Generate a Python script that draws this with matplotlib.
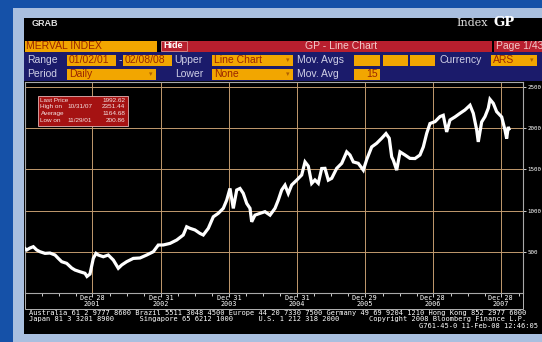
import matplotlib.pyplot as plt
from matplotlib.patches import Rectangle

# MERVAL index (decimal year, index value)
years = [2001.000, 2001.025, 2001.073, 2001.122, 2001.172, 2001.220, 2001.294, 2001.367, 2001.441,
         2001.489, 2001.539, 2001.612, 2001.686, 2001.734, 2001.808, 2001.881, 2001.910, 2001.954,
         2002.003, 2002.043, 2002.076, 2002.150, 2002.223, 2002.297, 2002.370, 2002.420, 2002.493,
         2002.590, 2002.689, 2002.787, 2002.884, 2002.957, 2003.031, 2003.129, 2003.228, 2003.324,
         2003.374, 2003.423, 2003.496, 2003.570, 2003.618, 2003.692, 2003.765, 2003.838, 2003.912,
         2003.962, 2004.010, 2004.059, 2004.109, 2004.157, 2004.205, 2004.256, 2004.304, 2004.329,
         2004.377, 2004.451, 2004.524, 2004.598, 2004.671, 2004.719, 2004.769, 2004.818, 2004.866,
         2004.916, 2004.990, 2005.063, 2005.112, 2005.160, 2005.210, 2005.258, 2005.307, 2005.357,
         2005.405, 2005.454, 2005.504, 2005.577, 2005.651, 2005.724, 2005.772, 2005.821, 2005.894,
         2005.968, 2006.018, 2006.091, 2006.164, 2006.238, 2006.301, 2006.349, 2006.385, 2006.408,
         2006.458, 2006.507, 2006.580, 2006.653, 2006.727, 2006.800, 2006.849, 2006.899, 2006.947,
         2007.021, 2007.094, 2007.142, 2007.192, 2007.241, 2007.314, 2007.388, 2007.461, 2007.535,
         2007.583, 2007.633, 2007.656, 2007.706, 2007.755, 2007.803, 2007.828, 2007.877, 2007.926,
         2008.000, 2008.048, 2008.073, 2008.097, 2008.107]
merval = [540, 522, 546, 562, 522, 501, 481, 485, 461,
          420, 380, 360, 303, 279, 258, 239, 201, 230,
          420, 481, 461, 440, 461, 400, 300, 340, 380,
          420, 425, 461, 501, 582, 583, 602, 643, 704,
          804, 785, 765, 723, 704, 785, 925, 967, 1028,
          1127, 1269, 1027, 1250, 1269, 1210, 1087, 1028, 864,
          945, 967, 987, 945, 1028, 1127, 1250, 1309, 1208,
          1311, 1370, 1432, 1591, 1540, 1330, 1372, 1331, 1511,
          1513, 1370, 1392, 1513, 1574, 1713, 1675, 1591, 1574,
          1491, 1620, 1773, 1817, 1878, 1935, 1878, 1652, 1614,
          1491, 1713, 1675, 1634, 1632, 1675, 1773, 1938, 2057,
          2080, 2141, 2157, 1955, 2100, 2137, 2181, 2222, 2279,
          2181, 1979, 1834, 2076, 2141, 2242, 2351, 2302, 2201,
          2137, 1979, 1875, 2016, 1993]

year_ticks = [2001.985, 2002.997, 2003.997, 2004.997, 2005.99, 2006.988, 2007.988]
tick_days = ['Dec 28', 'Dec 31', 'Dec 31', 'Dec 31', 'Dec 29', 'Dec 28', 'Dec 28']
tick_years = ['2001', '2002', '2003', '2004', '2005', '2006', '2007']
quarters = [2001.25, 2001.5, 2001.75, 2002.25, 2002.5, 2002.75, 2003.25, 2003.5, 2003.75,
            2004.25, 2004.5, 2004.75, 2005.25, 2005.5, 2005.75, 2006.25, 2006.5, 2006.75,
            2007.25, 2007.5, 2007.75, 2008.25]
y_ticks = [500, 1000, 1500, 2000, 2500]

stats_labels = ['Last Price', 'High on', 'Average', 'Low on']
stats_dates = ['', '10/31/07', '', '11/29/01']
stats_values = ['1992.62', '2351.44', '1164.68', '200.86']

footer = ['Australia 61 2 9777 8600 Brazil 5511 3048 4500 Europe 44 20 7330 7500 Germany 49 69 9204 1210 Hong Kong 852 2977 6000',
          'Japan 81 3 3201 8900      Singapore 65 6212 1000      U.S. 1 212 318 2000       Copyright 2008 Bloomberg Finance L.P.',
          'G761-45-0 11-Feb-08 12:46:05']

BLUE = '#1551a8'
LIGHT = '#a9bfdf'
NAVY = '#1b1b6b'
ORANGE = '#f2a600'
RED = '#b81f2e'
BOXTXT = '#9a2600'
LABEL = '#cfcfe6'
GRID = '#c29a6e'


def box(ax, x0, y0, x1, y1, fc, ec='none', lw=0.8, z=1):
    ax.add_patch(Rectangle((x0, y0), x1 - x0, y1 - y0, facecolor=fc, edgecolor=ec,
                           linewidth=lw, zorder=z))


def txt(ax, x, y, s, size=7.5, color=LABEL, ha='left', family='Liberation Sans', **kw):
    ax.text(x, y, s, fontsize=size, color=color, ha=ha, va='center', family=family, **kw)


def arrow(ax, x, y):
    txt(ax, x, y, '\u25be', size=5, color='#b06000', ha='center', family='DejaVu Sans')


fig = plt.figure(figsize=(5.42, 3.42), dpi=100)
fig.patch.set_facecolor(BLUE)

# screen frame, header rows
bg = fig.add_axes([0, 0, 1, 1])
bg.set_xlim(0, 542)
bg.set_ylim(342, 0)
bg.axis('off')

box(bg, 13, 8, 542, 342, LIGHT)
box(bg, 24, 18, 542, 334, 'black')

txt(bg, 32, 23.5, 'GRAB', size=6.5, color='#e0e0e0', weight='bold')
txt(bg, 456, 23, 'Index', size=8, color='#e0e0e0', family='DejaVu Serif')
txt(bg, 494, 23, 'GP', size=9.5, color='white', family='DejaVu Serif', weight='bold')

# row 1
box(bg, 25, 40.5, 157, 51.5, ORANGE)
txt(bg, 26, 46, 'MERVAL INDEX', color=BOXTXT)
box(bg, 160.5, 41, 186.5, 51, RED, ec='#e89090', lw=0.6)
txt(bg, 173.5, 46, 'Hide', size=6.5, color='white', ha='center', weight='bold')
box(bg, 188, 40.5, 491.5, 51.5, RED)
txt(bg, 341, 46, 'GP - Line Chart', color='#f2caca', ha='center')
box(bg, 493.5, 40.5, 542, 51.5, RED)
txt(bg, 496, 46, 'Page 1/43', color='#f2caca')

# rows 2 and 3
box(bg, 24, 52, 542, 81, NAVY)
y2, y3 = 60, 74
txt(bg, 27, y2, 'Range')
box(bg, 67, 54.5, 116, 65.5, ORANGE)
txt(bg, 69, y2, '01/02/01', color=BOXTXT)
txt(bg, 118.5, y2, '-')
box(bg, 123, 54.5, 172, 65.5, ORANGE)
txt(bg, 125, y2, '02/08/08', color=BOXTXT)
txt(bg, 174, y2, 'Upper')
box(bg, 212, 54.5, 293, 65.5, ORANGE)
txt(bg, 214, y2, 'Line Chart', color=BOXTXT)
arrow(bg, 288, y2)
txt(bg, 297, y2, 'Mov. Avgs')
for x0, x1 in [(354, 380), (383, 408), (410, 435)]:
    box(bg, x0, 54.5, x1, 65.5, ORANGE)
txt(bg, 440, y2, 'Currency')
box(bg, 491, 54.5, 537, 65.5, ORANGE)
txt(bg, 493, y2, 'ARS', color=BOXTXT)
arrow(bg, 532, y2)

txt(bg, 27, y3, 'Period')
box(bg, 67, 68.5, 156, 79.5, ORANGE)
txt(bg, 69, y3, 'Daily', color=BOXTXT)
arrow(bg, 151, y3)
txt(bg, 175, y3, 'Lower')
box(bg, 212, 68.5, 293, 79.5, ORANGE)
txt(bg, 214, y3, 'None', color=BOXTXT)
arrow(bg, 288, y3)
txt(bg, 297, y3, 'Mov. Avg')
box(bg, 354, 68.5, 380, 79.5, ORANGE)
txt(bg, 378, y3, '15', color=BOXTXT, ha='right')

# date label strip and footer
box(bg, 25, 293, 523, 309, 'none', ec='#b4b4b4', lw=0.7)
for i, line in enumerate(footer[:2]):
    txt(bg, 29, 313 + i * 6.3, line, size=5.0, color='white', family='DejaVu Sans Mono')
txt(bg, 538, 325.6, footer[2], size=5.0, color='white', ha='right', family='DejaVu Sans Mono')

# the chart itself
ax = fig.add_axes([25 / 542, 1 - 293 / 342, 498 / 542, 211 / 342])
ax.set_facecolor('black')
ax.set_xlim(2001.0, 2008.313)
ax.set_ylim(0, 2561)
for t in year_ticks:
    ax.axvline(t, color=GRID, lw=0.7, zorder=1)
for v in y_ticks:
    ax.axhline(v, color=GRID, lw=0.7, zorder=1)
ax.plot(years, merval, color='white', lw=2.3, solid_joinstyle='miter', zorder=3)

for s in ax.spines.values():
    s.set_color('#a8a8a8')
    s.set_linewidth(0.8)

ax.set_xticks(year_ticks)
ax.set_xticks(quarters, minor=True)
ax.set_xticklabels([])
ax.tick_params(axis='x', which='major', direction='out', length=3, color='#d0d0d0', width=0.7)
ax.tick_params(axis='x', which='minor', direction='out', length=2, color='#d0d0d0', width=0.7)

ax.yaxis.tick_right()
ax.set_yticks(y_ticks)
ax.set_yticklabels([str(v) for v in y_ticks], fontsize=4.2, color='white', family='DejaVu Sans Mono')
ax.tick_params(axis='y', direction='out', length=2.5, color='#d0d0d0', width=0.7, pad=0.8)

for t, d, yr in zip(year_ticks, tick_days, tick_years):
    ax.text(t, -0.022, d, transform=ax.get_xaxis_transform(), fontsize=4.9, color='white',
            ha='center', va='center', family='DejaVu Sans Mono', clip_on=False)
    ax.text(t, -0.054, yr, transform=ax.get_xaxis_transform(), fontsize=4.9, color='white',
            ha='center', va='center', family='DejaVu Sans Mono', clip_on=False)

# stats box on top of the chart
fg = fig.add_axes([0, 0, 1, 1])
fg.set_xlim(0, 542)
fg.set_ylim(342, 0)
fg.axis('off')
box(fg, 38, 95.5, 128, 125.5, '#a51212', ec='#e6b4b4', lw=0.6)
for i in range(len(stats_labels)):
    yy = 100 + i * 6.7
    txt(fg, 40.5, yy, stats_labels[i], size=4.6, color='#f4e4e4')
    txt(fg, 67, yy, stats_dates[i], size=4.6, color='#f4e4e4')
    txt(fg, 125, yy, stats_values[i], size=4.6, color='#f4e4e4', ha='right')

fig.savefig('out.png', dpi=100, facecolor=fig.get_facecolor())
